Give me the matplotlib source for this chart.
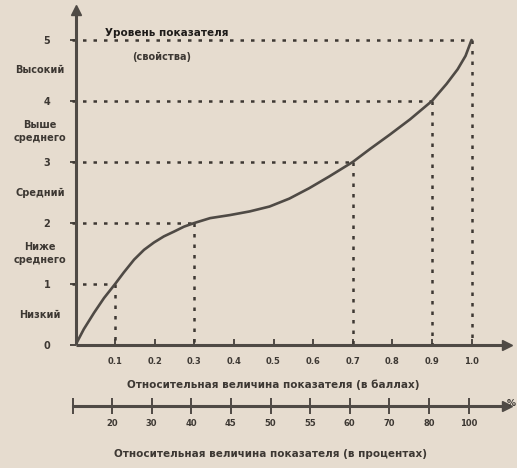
import numpy as np
import matplotlib
matplotlib.use("Agg")
import matplotlib.pyplot as plt

# Curve: relative value (score) vs level
curve_x = [0, 0.021, 0.047, 0.072, 0.1, 0.122, 0.148, 0.173, 0.198, 0.223, 0.249,
           0.274, 0.3, 0.34, 0.39, 0.44, 0.49, 0.54, 0.59, 0.64, 0.7, 0.743,
           0.794, 0.845, 0.9, 0.937, 0.965, 0.985, 1.0]
curve_y = [0, 0.26, 0.53, 0.77, 1.0, 1.19, 1.40, 1.56, 1.68, 1.78, 1.86,
           1.94, 2.0, 2.08, 2.13, 2.19, 2.27, 2.40, 2.57, 2.76, 3.0, 3.21,
           3.45, 3.70, 4.0, 4.28, 4.52, 4.74, 5.0]

# Guide points (score, level) with dotted projections
guide_x = [0.1, 0.3, 0.7, 0.9, 1.0]
guide_y = [1, 2, 3, 4, 5]

levels = [0, 1, 2, 3, 4, 5]
level_labels = ["0", "1", "2", "3", "4", "5"]
level_names = ["Низкий", "Ниже\nсреднего", "Средний", "Выше\nсреднего", "Высокий"]

score_ticks = [0.1, 0.2, 0.3, 0.4, 0.5, 0.6, 0.7, 0.8, 0.9, 1.0]
score_labels = ["0.1", "0.2", "0.3", "0.4", "0.5", "0.6", "0.7", "0.8", "0.9", "1.0"]
percent_labels = ["20", "30", "40", "45", "50", "55", "60", "70", "80", "100"]

W, H = 517, 468
bg = "#e6dccf"
ink = "#3d3833"
line_c = "#4f4a45"
dots = (0, (1.4, 2.8))

fig = plt.figure(figsize=(W / 100, H / 100), dpi=100, facecolor=bg)
plt.rcParams["font.family"] = ["DejaVu Sans"]

# main axes: origin at (75.5, 345) px, 396 px per unit in x, 61 px per level
x0, y0, sx, sy = 75.5, 345, 396, 61
right, top = 507, 10
ax = fig.add_axes([x0 / W, (H - y0) / H, (right - x0) / W, (y0 - top) / H])
ax.set_facecolor("none")
ax.set_xlim(0, (right - x0) / sx)
ax.set_ylim(0, (y0 - top) / sy)

for s in ["top", "right"]:
    ax.spines[s].set_visible(False)
for s in ["left", "bottom"]:
    ax.spines[s].set_linewidth(2.2)
    ax.spines[s].set_color(line_c)
    ax.spines[s].set_capstyle("butt")

ax.plot(1, 0, ">", color=line_c, ms=7, transform=ax.get_yaxis_transform(), clip_on=False)
ax.plot(0, 1, "^", color=line_c, ms=7, transform=ax.get_xaxis_transform(), clip_on=False)

# dotted guides
for gx, gy in zip(guide_x, guide_y):
    ax.plot([-0.01, gx], [gy, gy], color=ink, lw=1.8, ls=dots, clip_on=False)
    ax.plot([gx, gx], [gy, 0], color=ink, lw=1.8, ls=dots)

ax.plot(curve_x, curve_y, color=line_c, lw=1.9, solid_capstyle="round",
        solid_joinstyle="round", zorder=5)

ax.set_xticks(score_ticks)
ax.set_xticklabels(score_labels, fontsize=6, fontweight="bold", color=ink)
ax.tick_params(axis="x", direction="in", length=4, width=1.4, color=line_c, pad=9)

ax.set_yticks(levels)
ax.set_yticklabels(level_labels, fontsize=7, fontweight="bold", color=ink)
ax.tick_params(axis="y", direction="out", length=4, width=1.4, color=line_c, pad=14)

for i, name in enumerate(level_names):
    ax.text(-0.09, i + 0.5, name, ha="center", va="center", fontsize=7,
            fontweight="bold", color=ink, linespacing=1.3, clip_on=False)

# percent axis
px0 = 72.5
ax2 = fig.add_axes([px0 / W, (H - 406) / H, (right - px0) / W, 0.0001])
ax2.set_facecolor("none")
ax2.set_xlim(0, (right - px0) / sx)
ax2.set_yticks([])
for s in ["top", "right", "left"]:
    ax2.spines[s].set_visible(False)
ax2.spines["bottom"].set_linewidth(2.2)
ax2.spines["bottom"].set_color(line_c)
ax2.plot(1, 0, ">", color=line_c, ms=7, transform=ax2.get_yaxis_transform(), clip_on=False)
ax2.set_xticks(score_ticks)
ax2.set_xticklabels(percent_labels, fontsize=6, fontweight="bold", color=ink)
ax2.set_xticks([0], minor=True)
ax2.tick_params(axis="x", which="both", direction="inout", length=11, width=1.4,
                color=line_c, pad=4)
fig.text(511 / W, 1 - 403 / H, "%", ha="center", va="center", fontsize=6.5,
         fontweight="bold", color=ink)

# titles
fig.text(105 / W, 1 - 33 / H, "Уровень показателя", ha="left", va="center",
         fontsize=7.5, fontweight="bold", color="#1e1b19")
fig.text(162 / W, 1 - 57 / H, "(свойства)", ha="center", va="center",
         fontsize=7, fontweight="bold", color=ink)
fig.text(273 / W, 1 - 385 / H, "Относительная величина показателя (в баллах)",
         ha="center", va="center", fontsize=7.5, fontweight="bold", color=ink)
fig.text(271 / W, 1 - 454 / H, "Относительная величина показателя (в процентах)",
         ha="center", va="center", fontsize=7.5, fontweight="bold", color=ink)

fig.savefig("out.png", dpi=100, facecolor=bg)
